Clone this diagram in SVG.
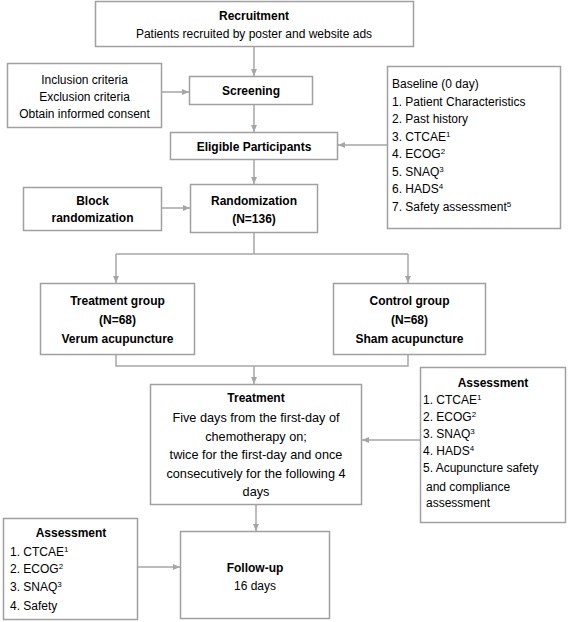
<svg xmlns="http://www.w3.org/2000/svg" width="568" height="622" viewBox="0 0 568 622">
<defs>
<marker id="ah" markerWidth="8" markerHeight="8" refX="7" refY="4" orient="auto" markerUnits="userSpaceOnUse">
<path d="M0,1 L7,4 L0,7 Z" fill="#a6a6a6"/>
</marker>
<style>
.box{fill:#fff;stroke:#a0a0a0;stroke-width:1.5}
.ln{fill:none;stroke:#a6a6a6;stroke-width:1.5}
.arr{fill:none;stroke:#a6a6a6;stroke-width:1.5;marker-end:url(#ah)}
text{font-family:"Liberation Sans",Arial,Helvetica,sans-serif;font-size:12px;fill:#000}
.b{font-weight:bold}
.c{text-anchor:middle}
.sup{font-size:8px}
.t13{font-size:12.7px}
</style>
</defs>
<rect width="568" height="622" fill="#fff"/>
<g id="connectors">
<line class="arr" x1="254" y1="47" x2="254" y2="76"/>
<line class="arr" x1="162" y1="92" x2="189" y2="92"/>
<line class="arr" x1="254" y1="105" x2="254" y2="132"/>
<line class="arr" x1="387" y1="145" x2="338" y2="145"/>
<line class="arr" x1="254" y1="160" x2="254" y2="184"/>
<line class="arr" x1="162" y1="208" x2="190" y2="208"/>
<polyline class="ln" points="254,233 254,254"/>
<polyline class="ln" points="116,254 408,254"/>
<line class="arr" x1="116" y1="254" x2="116" y2="283"/>
<line class="arr" x1="408" y1="254" x2="408" y2="283"/>
<polyline class="ln" points="116,355 116,366 408,366 408,355"/>
<line class="arr" x1="254" y1="366" x2="254" y2="384"/>
<line class="arr" x1="420" y1="440" x2="362" y2="440"/>
<line class="arr" x1="256" y1="505" x2="256" y2="531"/>
<line class="arr" x1="138" y1="567" x2="180" y2="567"/>
</g>
<g id="recruitment">
<rect class="box" x="95.5" y="1.5" width="318" height="45"/>
<text class="b c" x="254" y="20">Recruitment</text>
<text class="c" x="254" y="37.5">Patients recruited by poster and website ads</text>
</g>
<g id="criteria">
<rect class="box" x="7.5" y="63.5" width="154" height="64"/>
<text class="c" x="84.5" y="84">Inclusion criteria</text>
<text class="c" x="84.5" y="101">Exclusion criteria</text>
<text class="c" x="84.5" y="117.5">Obtain informed consent</text>
</g>
<g id="screening">
<rect class="box" x="189.5" y="76.5" width="123" height="28"/>
<text class="b c" x="251" y="95">Screening</text>
</g>
<g id="baseline">
<rect class="box" x="387.5" y="66.5" width="173" height="162"/>
<text x="392" y="88">Baseline (0 day)</text>
<text x="392" y="105.5">1. Patient Characteristics</text>
<text x="392" y="123">2. Past history</text>
<text x="392" y="140.5">3. CTCAE<tspan class="sup" dy="-4">1</tspan></text>
<text x="392" y="158">4. ECOG<tspan class="sup" dy="-4">2</tspan></text>
<text x="392" y="175.5">5. SNAQ<tspan class="sup" dy="-4">3</tspan></text>
<text x="392" y="193">6. HADS<tspan class="sup" dy="-4">4</tspan></text>
<text x="392" y="210.5">7. Safety assessment<tspan class="sup" dy="-4">5</tspan></text>
</g>
<g id="eligible">
<rect class="box" x="170.5" y="132.5" width="167" height="27"/>
<text class="b c" x="254" y="150.5">Eligible Participants</text>
</g>
<g id="block">
<rect class="box" x="23.5" y="187.5" width="138" height="43"/>
<text class="b c" x="92.5" y="205">Block</text>
<text class="b c" x="92.5" y="222">randomization</text>
</g>
<g id="randomization">
<rect class="box" x="190.5" y="184.5" width="127" height="48"/>
<text class="b c" x="254" y="205">Randomization</text>
<text class="b c" x="254" y="223">(N=136)</text>
</g>
<g id="treatment-group">
<rect class="box" x="40.5" y="283.5" width="154" height="71"/>
<text class="b c" x="117.5" y="305">Treatment group</text>
<text class="b c" x="117.5" y="324">(N=68)</text>
<text class="b c" x="117.5" y="343">Verum acupuncture</text>
</g>
<g id="control-group">
<rect class="box" x="333.5" y="283.5" width="152" height="71"/>
<text class="b c" x="409.5" y="305">Control group</text>
<text class="b c" x="409.5" y="324">(N=68)</text>
<text class="b c" x="409.5" y="343">Sham acupuncture</text>
</g>
<g id="treatment">
<rect class="box" x="150.5" y="384.5" width="211" height="120"/>
<text class="b c" x="256" y="402">Treatment</text>
<text class="c t13" x="256" y="421.5">Five days from the first-day of</text>
<text class="c t13" x="256" y="440.5">chemotherapy on;</text>
<text class="c t13" x="256" y="458.5">twice for the first-day and once</text>
<text class="c t13" x="256" y="477.5">consecutively for the following 4</text>
<text class="c t13" x="256" y="495.5">days</text>
</g>
<g id="assessment-right">
<rect class="box" x="420.5" y="367.5" width="145" height="155"/>
<text class="b c" x="493" y="387">Assessment</text>
<text x="423" y="404">1. CTCAE<tspan class="sup" dy="-4">1</tspan></text>
<text x="423" y="421">2. ECOG<tspan class="sup" dy="-4">2</tspan></text>
<text x="423" y="438">3. SNAQ<tspan class="sup" dy="-4">3</tspan></text>
<text x="423" y="455">4. HADS<tspan class="sup" dy="-4">4</tspan></text>
<text x="423" y="472">5. Acupuncture safety</text>
<text x="426" y="491">and compliance</text>
<text x="426" y="507">assessment</text>
</g>
<g id="assessment-left">
<rect class="box" x="3.5" y="518.5" width="134" height="101"/>
<text class="b c" x="71" y="537">Assessment</text>
<text x="10" y="556">1. CTCAE<tspan class="sup" dy="-4">1</tspan></text>
<text x="10" y="573">2. ECOG<tspan class="sup" dy="-4">2</tspan></text>
<text x="10" y="591">3. SNAQ<tspan class="sup" dy="-4">3</tspan></text>
<text x="10" y="610">4. Safety</text>
</g>
<g id="follow-up">
<rect class="box" x="180.5" y="531.5" width="149" height="87"/>
<text class="b c" x="255" y="572">Follow-up</text>
<text class="c" x="255" y="590">16 days</text>
</g>
</svg>
